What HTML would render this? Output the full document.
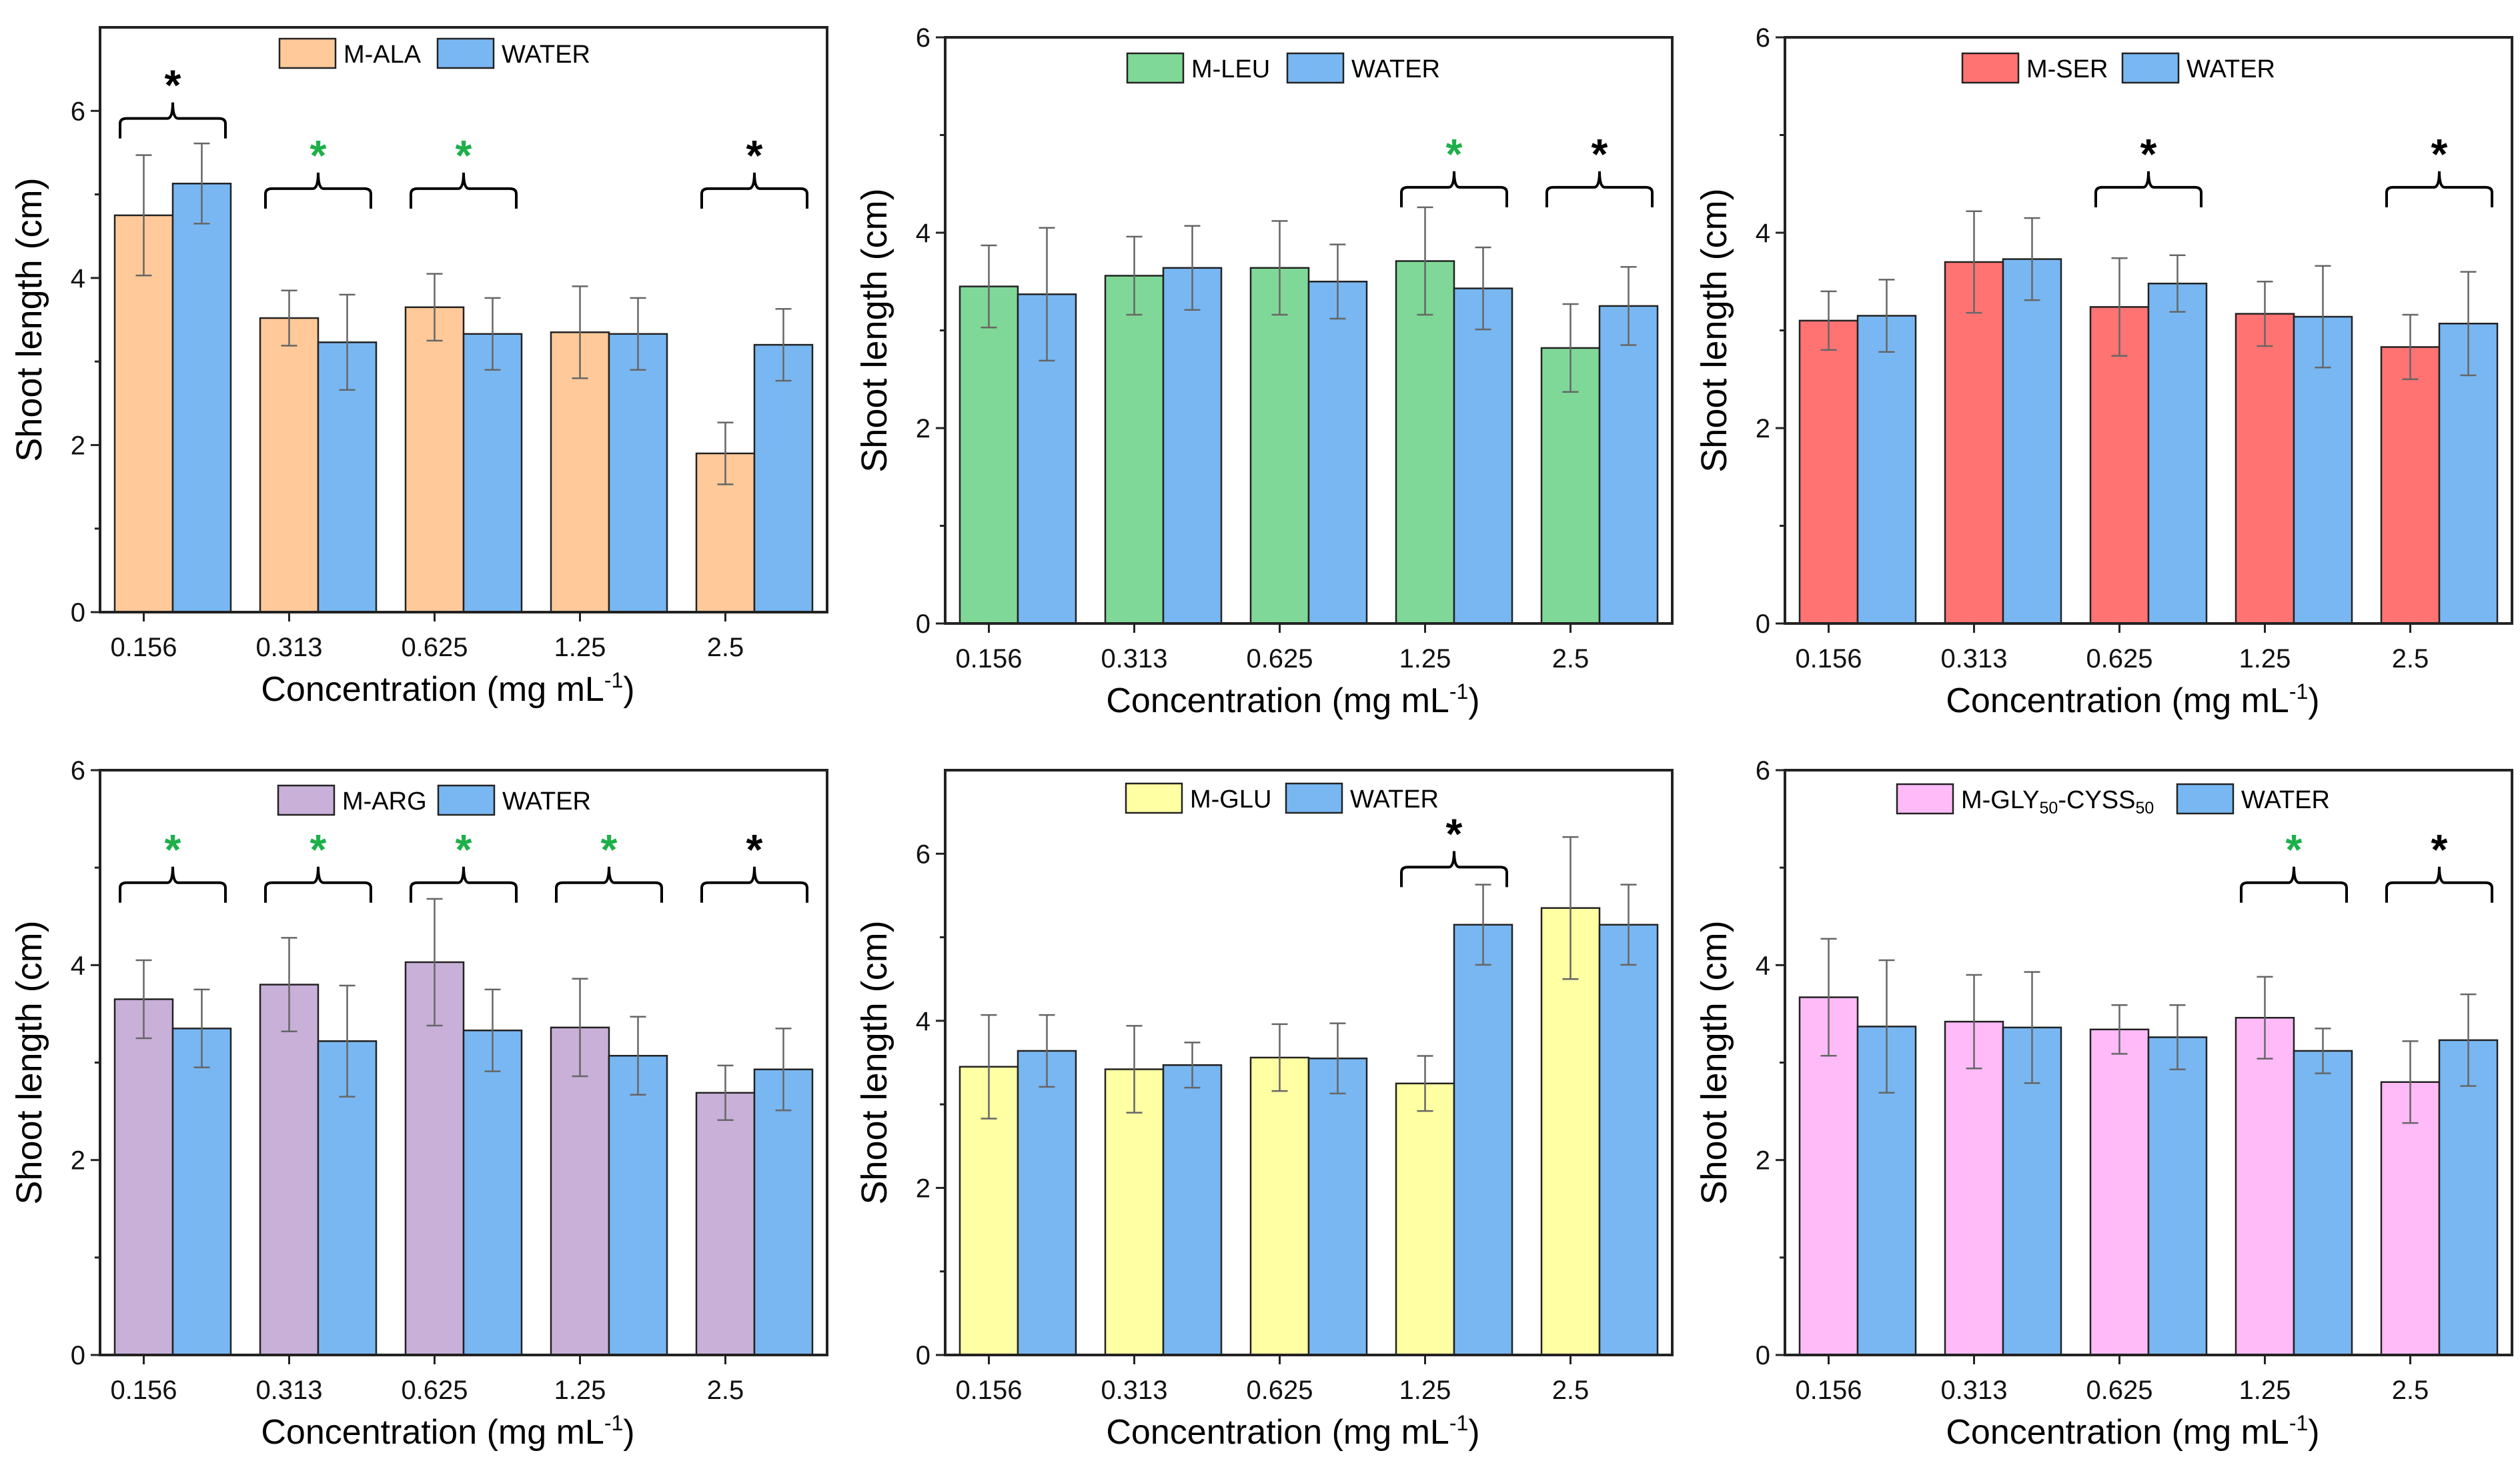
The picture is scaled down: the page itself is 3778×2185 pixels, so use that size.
<!DOCTYPE html>
<html><head><meta charset="utf-8">
<style>
html,body{margin:0;padding:0;background:#fff;}
svg{display:block;font-family:"Liberation Sans",Arial,sans-serif;}
</style></head>
<body>
<svg id="fig" width="3778" height="2185" viewBox="0 0 3778 2185" xmlns="http://www.w3.org/2000/svg"></svg>
<script>
const categories = ["0.156","0.313","0.625","1.25","2.5"];
const yTicks = [0,2,4,6];
const alaVals = [4.75,3.52,3.65,3.35,1.9];
const alaErr = [0.72,0.33,0.4,0.55,0.37];
const alaWater = [5.13,3.23,3.33,3.33,3.2];
const alaWaterErr = [0.48,0.57,0.43,0.43,0.43];
const leuVals = [3.45,3.56,3.64,3.71,2.82];
const leuErr = [0.42,0.4,0.48,0.55,0.45];
const leuWater = [3.37,3.64,3.5,3.43,3.25];
const leuWaterErr = [0.68,0.43,0.38,0.42,0.4];
const serVals = [3.1,3.7,3.24,3.17,2.83];
const serErr = [0.3,0.52,0.5,0.33,0.33];
const serWater = [3.15,3.73,3.48,3.14,3.07];
const serWaterErr = [0.37,0.42,0.29,0.52,0.53];
const argVals = [3.65,3.8,4.03,3.36,2.69];
const argErr = [0.4,0.48,0.65,0.5,0.28];
const argWater = [3.35,3.22,3.33,3.07,2.93];
const argWaterErr = [0.4,0.57,0.42,0.4,0.42];
const gluVals = [3.45,3.42,3.56,3.25,5.35];
const gluErr = [0.62,0.52,0.4,0.33,0.85];
const gluWater = [3.64,3.47,3.55,5.15,5.15];
const gluWaterErr = [0.43,0.27,0.42,0.48,0.48];
const glyVals = [3.67,3.42,3.34,3.46,2.8];
const glyErr = [0.6,0.48,0.25,0.42,0.42];
const glyWater = [3.37,3.36,3.26,3.12,3.23];
const glyWaterErr = [0.68,0.57,0.33,0.23,0.47];
// significance: group index, color, bracket level (data units)
const alaSig = [[0,"k",5.67],[1,"g",4.83],[2,"g",4.83],[4,"k",4.83]];
const leuSig = [[3,"g",4.26],[4,"k",4.26]];
const serSig = [[2,"k",4.26],[4,"k",4.26]];
const argSig = [[0,"g",4.64],[1,"g",4.64],[2,"g",4.64],[3,"g",4.64],[4,"k",4.64]];
const gluSig = [[3,"k",5.6]];
const glySig = [[3,"g",4.64],[4,"k",4.64]];

const NS="http://www.w3.org/2000/svg";
const svg=document.getElementById('fig');
function mk(tag,attrs,parent){const e=document.createElementNS(NS,tag);for(const k in attrs)e.setAttribute(k,attrs[k]);(parent||svg).appendChild(e);return e;}

const panels=[
 {id:'ala',L:150,R:1240,T:41,B:918,ymax:7,color:'#FFC999',name:'M-ALA',v:alaVals,e:alaErr,w:alaWater,we:alaWaterErr,sig:alaSig,leg:[419,58]},
 {id:'leu',L:1417,R:2507,T:56,B:935,ymax:6,color:'#7FD897',name:'M-LEU',v:leuVals,e:leuErr,w:leuWater,we:leuWaterErr,sig:leuSig,leg:[1690,80]},
 {id:'ser',L:2676,R:3766,T:56,B:935,ymax:6,color:'#FF7373',name:'M-SER',v:serVals,e:serErr,w:serWater,we:serWaterErr,sig:serSig,leg:[2942,80]},
 {id:'arg',L:150,R:1240,T:1155,B:2032,ymax:6,color:'#C8B0D8',name:'M-ARG',v:argVals,e:argErr,w:argWater,we:argWaterErr,sig:argSig,leg:[417,1178]},
 {id:'glu',L:1417,R:2507,T:1155,B:2032,ymax:7,color:'#FFFFA3',name:'M-GLU',v:gluVals,e:gluErr,w:gluWater,we:gluWaterErr,sig:gluSig,leg:[1688,1175]},
 {id:'gly',L:2676,R:3766,T:1155,B:2032,ymax:6,color:'#FFBAF8',name:'GLY',v:glyVals,e:glyErr,w:glyWater,we:glyWaterErr,sig:glySig,leg:[2844,1176]}
];

panels.forEach(p=>{
 const g=mk('g',{});
 
 
 const y=v=>p.B-(p.B-p.T)*v/p.ymax;
 const bw=87;
 const cx=i=>p.L+22+bw/2+218*i;
 // bars
 for(let i=0;i<categories.length;i++){
  const r1=mk('rect',{x:cx(i)-bw/2,y:y(p.v[i]),width:bw,height:p.B-y(p.v[i]),fill:p.color,stroke:'#222','stroke-width':2.5},g);
  
  
  const r2=mk('rect',{x:cx(i)+bw/2,y:y(p.w[i]),width:bw,height:p.B-y(p.w[i]),fill:'#78B7F2',stroke:'#222','stroke-width':2.5},g);
  
  
  [[cx(i),p.v[i],p.e[i]],[cx(i)+bw,p.w[i],p.we[i]]].forEach(([x,v,er])=>{
   const eb=mk('path',{d:`M${x},${y(v+er)}V${y(v-er)}M${x-12},${y(v+er)}H${x+12}M${x-12},${y(v-er)}H${x+12}`,stroke:'#666','stroke-width':2.5,fill:'none'},g);
   
   
  });
 }
 // frame
 const fr=mk('rect',{x:p.L,y:p.T,width:p.R-p.L,height:p.B-p.T,fill:'none',stroke:'#222','stroke-width':4},g);
 
 
 // y ticks
 yTicks.forEach(t=>{
  mk('line',{x1:p.L-14,x2:p.L,y1:y(t),y2:y(t),stroke:'#222','stroke-width':3},g);
  const tx=mk('text',{x:p.L-22,y:y(t)+14,'text-anchor':'end','font-size':40,fill:'#111'},g);
  tx.textContent=t;
  
  
 });
 for(let t=1;t<p.ymax;t+=2) mk('line',{x1:p.L-8,x2:p.L,y1:y(t),y2:y(t),stroke:'#222','stroke-width':3},g);
 // x ticks
 categories.forEach((c,i)=>{
  mk('line',{x1:cx(i),x2:cx(i),y1:p.B,y2:p.B+14,stroke:'#222','stroke-width':3},g);
  const tx=mk('text',{x:cx(i),y:p.B+66,'text-anchor':'middle','font-size':40,fill:'#111'},g);
  tx.textContent=c;
  
  
 });
 // axis titles
 const yt=mk('text',{transform:`translate(${p.L-88},${(p.T+p.B)/2}) rotate(-90)`,'text-anchor':'middle','font-size':54,fill:'#000'},g);
 yt.textContent='Shoot length (cm)';
 
 
 const xt=mk('text',{x:cx(2)+20,y:p.B+133,'text-anchor':'middle','font-size':52,fill:'#000'},g);
 xt.innerHTML='Concentration (mg mL<tspan dy="-20" font-size="32">-1</tspan><tspan dy="20">)</tspan>';
 
 
 // significance brackets
 p.sig.forEach(([i,col,lvl])=>{
  const x1=cx(i)-bw/2+8,x2=cx(i)+1.5*bw-8,yb=y(lvl),yh=yb-30,xm=cx(i)+bw/2;
  const br=mk('path',{d:`M${x1},${yb}V${yh+8}Q${x1},${yh} ${x1+10},${yh}H${xm-8}Q${xm},${yh} ${xm},${yh-24}Q${xm},${yh} ${xm+8},${yh}H${x2-10}Q${x2},${yh} ${x2},${yh+8}V${yb}`,stroke:'#000','stroke-width':4,fill:'none'},g);
  
  
  const st=mk('text',{x:xm,y:yh-28,'text-anchor':'middle','font-size':64,'font-weight':'bold',fill:col==='g'?'#1DB04A':'#000'},g);
  st.textContent='*';
  
  
 });
 // legend
 const [lx,ly]=p.leg;
 const lg=mk('g',{},g);
 
 
 mk('rect',{x:lx,y:ly,width:84,height:44,fill:p.color,stroke:'#222','stroke-width':2.5},lg);
 const t1=mk('text',{x:lx+96,y:ly+36,'font-size':38,fill:'#000'},lg);
 if(p.name==='GLY'){t1.innerHTML='M-GLY<tspan dy="8" font-size="25">50</tspan><tspan dy="-8">-CYSS</tspan><tspan dy="8" font-size="25">50</tspan>';}
 else t1.textContent=p.name;
 
 
 const off = p.name==='GLY'?420:(p.name==='M-ALA'?237:240);
 mk('rect',{x:lx+off,y:ly,width:84,height:44,fill:'#78B7F2',stroke:'#222','stroke-width':2.5},lg);
 const t2=mk('text',{x:lx+off+96,y:ly+36,'font-size':38,fill:'#000'},lg);
 t2.textContent='WATER';
 
 
});
</script>
</body></html>
